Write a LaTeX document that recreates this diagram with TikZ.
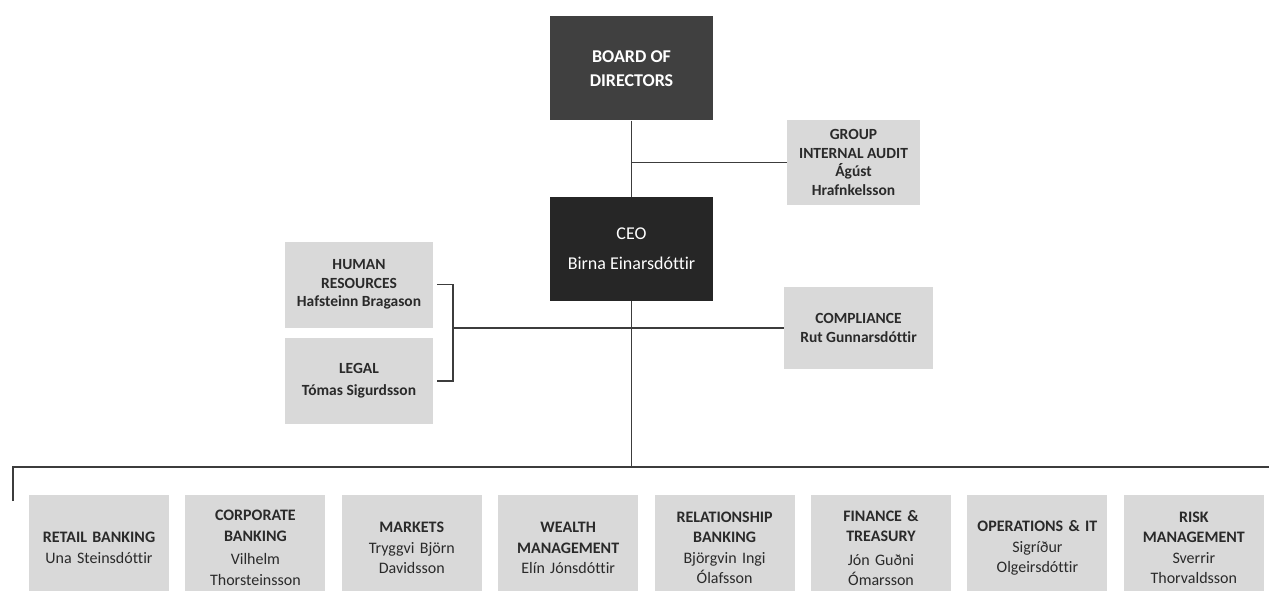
\documentclass[tikz,border=0pt]{standalone}
\usepackage{fontspec}
\setmainfont{Carlito}[Ligatures=NoCommon]
\usetikzlibrary{positioning}

\definecolor{boardgray}{HTML}{404040}
\definecolor{ceogray}{HTML}{262626}
\definecolor{unitgray}{HTML}{D9D9D9}
\definecolor{linegray}{HTML}{3C3C3C}
\definecolor{textgray}{HTML}{2A2A2A}

\begin{document}
\begin{tikzpicture}[
        x=1pt, y=-1pt,
        node distance=16pt,
        lead/.style={
            rectangle,
            fill=#1,
            text=white,
            align=center,
            inner sep=2pt,
            minimum width=163pt,
            minimum height=104pt,
            font=\fontsize{18}{23.5}\selectfont
        },
        staff/.style={
            rectangle,
            fill=unitgray,
            text=textgray,
            align=center,
            inner sep=2pt,
            font=\bfseries\fontsize{15.5}{18.5}\selectfont
        },
        dept/.style={
            rectangle,
            fill=unitgray,
            text=textgray,
            align=center,
            inner sep=2pt,
            text width=136pt,
            minimum width=140pt,
            minimum height=106pt,
            font=\fontsize{16}{20.5}\selectfont
        },
        link/.style={
            draw=linegray,
            line width=1.6pt
        }
    ]
        \useasboundingbox (0,0) rectangle (1269,591);

        % Top of the chart
        \node[lead=boardgray] (board) at (631.5,68.5) {\textbf{BOARD OF}\\\textbf{DIRECTORS}};
        \node[lead=ceogray, below=76pt of board] (ceo) {CEO\\[6pt]Birna Einarsdóttir};

        % Staff functions
        \node[staff, minimum width=133pt, minimum height=85pt] (audit) at (853.5,162.5) {GROUP\\INTERNAL AUDIT\\Ágúst\\Hrafnkelsson};
        \node[staff, minimum width=149pt, minimum height=82pt] (comp) at (858.5,328) {COMPLIANCE\\Rut Gunnarsdóttir};
        \node[staff, minimum width=148pt, minimum height=86pt] (hr) at (359,284.5) {HUMAN\\RESOURCES\\Hafsteinn Bragason};
        \node[staff, minimum width=148pt, minimum height=86pt, below=10pt of hr] (legal) {LEGAL\\[4pt]Tómas Sigurdsson};

        % Business units
        \node[dept] (retail) at (99,548) {\textbf{RETAIL BANKING}\\Una Steinsdóttir};
        \node[dept, right=of retail] (corp) {\textbf{CORPORATE}\\\textbf{BANKING}\\[3pt]Vilhelm\\Thorsteinsson};
        \node[dept, right=of corp] (markets) {\textbf{MARKETS}\\Tryggvi Björn\\Davidsson};
        \node[dept, right=of markets] (wealth) {\textbf{WEALTH}\\\textbf{MANAGEMENT}\\Elín Jónsdóttir};
        \node[dept, right=of wealth] (relation) {\textbf{RELATIONSHIP}\\\textbf{BANKING}\\Björgvin Ingi\\Ólafsson};
        \node[dept, right=of relation] (finance) {\textbf{FINANCE \&}\\\textbf{TREASURY}\\[3pt]Jón Guðni\\Ómarsson};
        \node[dept, right=of finance] (ops) {\textbf{OPERATIONS \& IT}\\Sigríður\\Olgeirsdóttir};
        \node[dept, right=of ops] (risk) {\textbf{RISK}\\\textbf{MANAGEMENT}\\Sverrir\\Thorvaldsson};

        % Helper points
        \coordinate (auditjoin) at (board.south |- audit.west);
        \coordinate (brk) at ([xshift=20pt]hr.east);
        \coordinate (busL) at (13,467);
        \coordinate (busR) at (1269,467);
        \coordinate (tick) at (13,501);

        % Lines
        \draw[link] (board) -- (ceo);
        \draw[link] (auditjoin) -- (audit.west);
        \draw[link] ([xshift=4pt]hr.east) -- (brk) -- (brk |- legal.east) -- ([xshift=4pt]legal.east);
        \draw[link] (brk |- comp.west) -- (comp.west);
        \draw[link] (ceo.south) -- (ceo.south |- busL);
        \draw[link] (tick) -- (busL) -- (busR);
\end{tikzpicture}
\end{document}
